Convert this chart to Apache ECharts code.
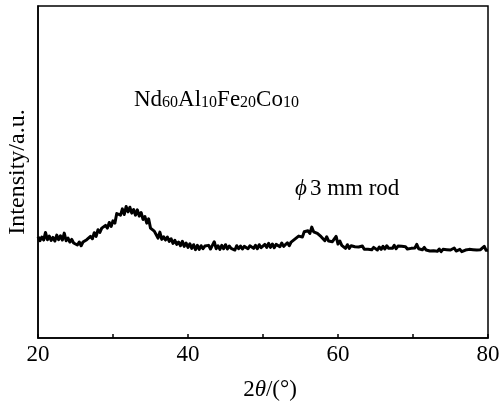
<!DOCTYPE html>
<html><head><meta charset="utf-8">
<script src="https://cdn.jsdelivr.net/npm/echarts@6/dist/echarts.min.js"></script>
<style>html,body{margin:0;padding:0;background:#fff}#c{width:504px;height:405px}</style>
</head><body><div id="c"></div>
<script>
// 2θ start, step (degrees)
const thetaStart = 20;
const thetaStep = 0.25;
const intensity = [
30.5,29.3,30.4,29.5, 31.8,29.6,30.7,29.4, 30.3,29.2,31.0,29.6, 30.8,29.5,31.6,29.3,
30.1,28.9,29.7,28.6, 29.2,28.0,28.9,27.8, 28.9,28.4,29.6,29.1, 30.6,29.9,31.7,30.6,
32.6,31.8,33.1,32.9, 33.9,33.1,34.8,33.6, 35.3,34.6,37.5,38.1, 37.0,38.9,37.2,39.6,
38.0,39.4,37.6,38.7, 37.0,38.6,36.7,37.8, 35.7,36.6,34.6,35.9, 33.1,33.0,32.2,31.8,
30.1,31.9,29.7,30.5, 29.5,30.4,29.1,29.9, 28.5,29.4,28.2,28.9, 27.8,29.1,27.6,28.6,
27.3,28.4,27.0,28.1, 26.6,27.9,26.7,27.8, 26.9,27.7,27.2,27.9, 26.8,27.9,29.0,26.9,
27.8,26.7,27.9,26.9, 28.1,26.8,27.7,27.0, 27.6,26.5,27.8,26.9, 27.7,26.8,27.6,27.1,
26.9,27.8,28.3,27.0, 27.9,26.9,28.1,27.2, 27.0,28.2,27.3,28.5, 27.3,28.3,27.2,28.2,
28.5,27.5,28.6,27.6, 27.5,28.7,27.8,28.9, 28.5,29.8,30.2,30.7, 31.0,30.4,32.0,31.6,
32.3,31.5,33.4,32.0, 32.4,31.5,31.6,30.5, 30.7,29.3,30.5,29.2, 29.5,29.0,29.4,30.6,
28.3,29.2,27.9,28.3, 27.0,28.1,27.0,27.8, 27.2,27.5,26.9,27.4, 26.8,27.7,26.7,27.2,
26.7,27.3,26.6,27.3, 27.1,26.5,27.4,26.7, 27.6,26.8,27.8,27.0, 27.5,27.0,27.9,26.9,
27.7,27.1,27.6,27.2, 27.5,26.8,27.4,27.0, 27.5,27.1,28.2,26.9, 27.5,26.6,27.3,26.5,
26.8,26.2,26.7,26.3, 26.4,26.1,26.8,26.0, 26.7,26.2,26.6,26.4, 26.5,26.1,27.1,26.2,
26.3,26.7,26.0,26.5, 26.5,26.0,26.7,26.2, 26.6,26.0,26.5,26.2, 26.6,26.3,27.6,26.4,
26.4
];
const xTickLabels = [20, 40, 60, 80];

const data = intensity.map((v, i) => [thetaStart + i * thetaStep, v]);
const serif = '"Liberation Serif", "Times New Roman", serif';

const chart = echarts.init(document.getElementById('c'), null, {renderer: 'canvas'});
chart.setOption({
  animation: false,
  grid: {left: 38, right: 16, top: 6, bottom: 67, containLabel: false, outerBoundsMode: 'none',
    show: true, borderColor: '#000', borderWidth: 1.5, backgroundColor: 'transparent'},
  xAxis: {
    type: 'value', min: 20, max: 80, interval: 10,
    axisLine: {show: true, lineStyle: {color: '#000', width: 1.5}},
    axisTick: {show: true, inside: true, length: 4, lineStyle: {color: '#000', width: 1.5}},
    splitLine: {show: false},
    axisLabel: {color: '#000', fontFamily: serif, fontSize: 23, margin: 5,
      formatter: v => xTickLabels.indexOf(v) >= 0 ? String(v) : ''},
    name: '{n|2}{i|θ}{n|/(°)}', nameLocation: 'middle', nameGap: 40,
    nameTextStyle: {padding: [0, 0, 0, 14], rich: {
      n: {fontFamily: serif, fontSize: 23, color: '#000'},
      i: {fontFamily: serif, fontSize: 23, fontStyle: 'italic', color: '#000'}
    }}
  },
  yAxis: {
    type: 'value', min: 0, max: 100,
    axisLine: {show: true, lineStyle: {color: '#000', width: 1.5}},
    axisTick: {show: false}, axisLabel: {show: false}, splitLine: {show: false},
    name: 'Intensity/a.u.', nameLocation: 'middle', nameGap: 8,
    nameTextStyle: {fontFamily: serif, fontSize: 24, color: '#000'}
  },
  series: [{
    type: 'line', data: data, showSymbol: false, symbol: 'none',
    lineStyle: {color: '#000', width: 3, join: 'round'}
  }],
  graphic: [
    {type: 'text', left: 134, top: 88, style: {
      text: '{m|Nd}{s|60}{m|Al}{s|10}{m|Fe}{s|20}{m|Co}{s|10}',
      rich: {
        m: {fontFamily: serif, fontSize: 23, color: '#000', verticalAlign: 'bottom'},
        s: {fontFamily: serif, fontSize: 16, color: '#000', verticalAlign: 'bottom'}
      }
    }},
    {type: 'text', left: 295, top: 177, style: {
      text: '{i|ϕ}{m|3 mm rod}',
      rich: {
        m: {fontFamily: serif, fontSize: 23, color: '#000'},
        i: {fontFamily: serif, fontSize: 23, fontStyle: 'italic', color: '#000', padding: [0, 3, 0, 0]}
      }
    }}
  ]
});
</script></body></html>
